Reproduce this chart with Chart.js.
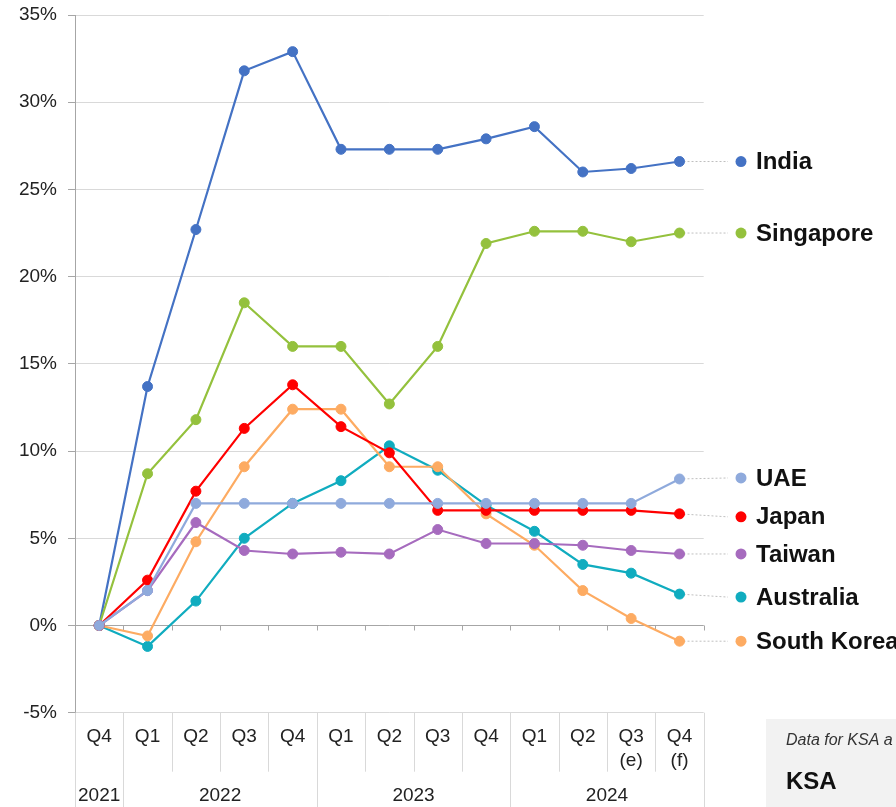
<!DOCTYPE html>
<html>
<head>
<meta charset="utf-8">
<script src="https://cdn.jsdelivr.net/npm/chart.js@4.4.1/dist/chart.umd.min.js"></script>
<style>
    html, body { margin: 0; padding: 0; background: #ffffff; }
    #wrap { position: relative; width: 896px; height: 807px; }
</style>
</head>
<body>
<div id="wrap"><canvas id="chart" width="896" height="807"></canvas></div>
<script>
var quarters = [['Q4'], ['Q1'], ['Q2'], ['Q3'], ['Q4'], ['Q1'], ['Q2'], ['Q3'], ['Q4'], ['Q1'], ['Q2'], ['Q3', '(e)'], ['Q4', '(f)']];
var years = ['2021', '2022', '2023', '2024'];
var yearSpans = [1, 4, 4, 4];

// growth vs Q4 2021, in percent
var india      = [0, 13.7, 22.7, 31.8, 32.9, 27.3, 27.3, 27.3, 27.9, 28.6, 26.0, 26.2, 26.6];
var singapore  = [0, 8.7, 11.8, 18.5, 16.0, 16.0, 12.7, 16.0, 21.9, 22.6, 22.6, 22.0, 22.5];
var uae        = [0, 2.0, 7.0, 7.0, 7.0, 7.0, 7.0, 7.0, 7.0, 7.0, 7.0, 7.0, 8.4];
var japan      = [0, 2.6, 7.7, 11.3, 13.8, 11.4, 9.9, 6.6, 6.6, 6.6, 6.6, 6.6, 6.4];
var taiwan     = [0, 2.0, 5.9, 4.3, 4.1, 4.2, 4.1, 5.5, 4.7, 4.7, 4.6, 4.3, 4.1];
var australia  = [0, -1.2, 1.4, 5.0, 7.0, 8.3, 10.3, 8.9, 6.9, 5.4, 3.5, 3.0, 1.8];
var southKorea = [0, -0.6, 4.8, 9.1, 12.4, 12.4, 9.1, 9.1, 6.4, 4.6, 2.0, 0.4, -0.9];

var yMin = -5;
var yMax = 35;
var yStep = 5;

var FONT = '"Liberation Sans", Arial, sans-serif';

// first dataset ends up on top
var series = [
    { name: 'UAE',         data: uae,        color: '#8faadc', nudge: -1 },
    { name: 'Japan',       data: japan,      color: '#ff0000', nudge: 3 },
    { name: 'Taiwan',      data: taiwan,     color: '#a66bbe', nudge: 0 },
    { name: 'South Korea', data: southKorea, color: '#fdab62', nudge: 0 },
    { name: 'Australia',   data: australia,  color: '#10acbf', nudge: 3 },
    { name: 'Singapore',   data: singapore,  color: '#94c13d', nudge: 0 },
    { name: 'India',       data: india,      color: '#4472c4', nudge: 0 }
];

var datasets = series.map(function (s) {
    return {
        label: s.name,
        data: s.data,
        borderColor: s.color,
        backgroundColor: s.color,
        pointBackgroundColor: s.color,
        pointBorderColor: s.color,
        borderWidth: 2.2,
        pointRadius: 5,
        pointBorderWidth: 1,
        tension: 0,
        fill: false
    };
});

// zero line with small ticks, lower separators and year row
var axisExtras = {
    id: 'axisExtras',
    beforeDatasetsDraw: function (chart) {
        var ctx = chart.ctx;
        var area = chart.chartArea;
        var xs = chart.scales.x;
        var ys = chart.scales.y;
        var band = xs.getPixelForValue(1) - xs.getPixelForValue(0);
        var y0 = ys.getPixelForValue(0);
        var i;

        ctx.save();
        ctx.strokeStyle = '#a6a6a6';
        ctx.lineWidth = 1;
        ctx.beginPath();
        ctx.moveTo(area.left, Math.round(y0) + 0.5);
        ctx.lineTo(area.right, Math.round(y0) + 0.5);
        for (i = 1; i <= quarters.length; i++) {
            var bx = Math.round(xs.getPixelForValue(i) - band / 2) + 0.5;
            ctx.moveTo(bx, y0);
            ctx.lineTo(bx, y0 + 5);
        }
        ctx.stroke();

        // separators under the plot
        var yearEdges = [0];
        var acc = 0;
        yearSpans.forEach(function (n) { acc += n; yearEdges.push(acc); });
        ctx.strokeStyle = '#d9d9d9';
        ctx.beginPath();
        for (i = 0; i <= quarters.length; i++) {
            var sx = Math.round(xs.getPixelForValue(i) - band / 2) + 0.5;
            var long = yearEdges.indexOf(i) >= 0;
            ctx.moveTo(sx, area.bottom);
            ctx.lineTo(sx, long ? chart.height : area.bottom + 59);
        }
        ctx.stroke();

        // year labels
        ctx.fillStyle = '#222222';
        ctx.font = '19px ' + FONT;
        ctx.textAlign = 'center';
        ctx.textBaseline = 'middle';
        for (i = 0; i < years.length; i++) {
            var a = xs.getPixelForValue(yearEdges[i]) - band / 2;
            var b = xs.getPixelForValue(yearEdges[i + 1]) - band / 2;
            ctx.fillText(years[i], (a + b) / 2, area.bottom + 83);
        }
        ctx.restore();
    }
};

// series names at the right end, with dotted leaders
var endLabels = {
    id: 'endLabels',
    beforeDatasetsDraw: function (chart) {
        var ctx = chart.ctx;
        ctx.save();
        ctx.strokeStyle = '#bfbfbf';
        ctx.lineWidth = 1;
        ctx.setLineDash([2, 2]);
        series.forEach(function (s, k) {
            var pts = chart.getDatasetMeta(k).data;
            var p = pts[pts.length - 1];
            ctx.beginPath();
            ctx.moveTo(p.x, p.y);
            ctx.lineTo(728, p.y + s.nudge);
            ctx.stroke();
        });
        ctx.restore();
    },
    afterDatasetsDraw: function (chart) {
        var ctx = chart.ctx;
        ctx.save();
        ctx.font = 'bold 24px ' + FONT;
        ctx.textAlign = 'left';
        ctx.textBaseline = 'middle';
        series.forEach(function (s, k) {
            var pts = chart.getDatasetMeta(k).data;
            var p = pts[pts.length - 1];
            var ly = p.y + s.nudge;
            ctx.fillStyle = s.color;
            ctx.beginPath();
            ctx.arc(741, ly, 5.5, 0, Math.PI * 2);
            ctx.fill();
            ctx.fillStyle = '#111111';
            ctx.fillText(s.name, 756, ly + 1);
        });
        ctx.restore();
    }
};

// grey note panel at the bottom right
var notePanel = {
    id: 'notePanel',
    afterDraw: function (chart) {
        var ctx = chart.ctx;
        ctx.save();
        ctx.fillStyle = '#f2f2f2';
        ctx.fillRect(766, 719, chart.width - 766, chart.height - 719);
        ctx.fillStyle = '#333333';
        ctx.font = 'italic 16px ' + FONT;
        ctx.textBaseline = 'middle';
        ctx.fillText('Data for KSA a', 786, 741);
        ctx.fillStyle = '#111111';
        ctx.font = 'bold 24px ' + FONT;
        ctx.fillText('KSA', 786, 782);
        ctx.restore();
    }
};

new Chart(document.getElementById('chart'), {
    type: 'line',
    data: { labels: quarters, datasets: datasets },
    options: {
        responsive: false,
        animation: false,
        layout: { padding: { left: 0, right: 192.3, top: 15, bottom: 0 } },
        plugins: { legend: { display: false }, tooltip: { enabled: false } },
        scales: {
            x: {
                offset: true,
                grid: { display: false, drawTicks: false },
                border: { display: false },
                ticks: {
                    color: '#222222',
                    font: { size: 19, family: FONT, lineHeight: 1.25 },
                    padding: 12,
                    maxRotation: 0,
                    autoSkip: false
                },
                afterFit: function (s) { s.height = 94.3; }
            },
            y: {
                min: yMin,
                max: yMax,
                grid: { color: '#d9d9d9', tickColor: '#a6a6a6', tickLength: 7 },
                border: { display: true, color: '#a6a6a6' },
                ticks: {
                    stepSize: yStep,
                    color: '#222222',
                    padding: 11,
                    font: { size: 19, family: FONT },
                    callback: function (v) { return v + '%'; }
                },
                afterFit: function (s) {
                    s.width = 75;
                    s.paddingTop = 0;
                    s.paddingBottom = 0;
                }
            }
        }
    },
    plugins: [axisExtras, endLabels, notePanel]
});
</script>
</body>
</html>
